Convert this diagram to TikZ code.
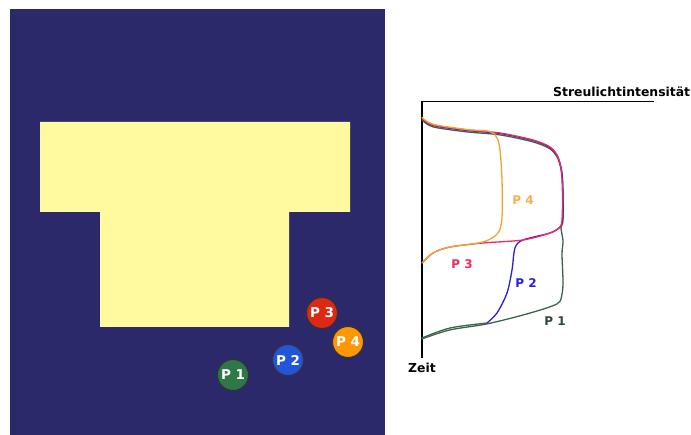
\documentclass[tikz,border=0pt]{standalone}
\usepackage{fontspec}
\setmainfont{DejaVu Sans}
\definecolor{navy}{RGB}{44,41,106}
\definecolor{tee}{RGB}{255,250,160}
\definecolor{cgreen}{RGB}{46,120,72}
\definecolor{cblue}{RGB}{34,85,215}
\definecolor{cred}{RGB}{222,40,20}
\definecolor{corange}{RGB}{255,152,0}
\definecolor{lgreen}{RGB}{60,100,75}
\definecolor{lblue}{RGB}{45,30,215}
\definecolor{lred}{RGB}{245,40,90}
\definecolor{lorange}{RGB}{245,160,50}
\definecolor{lgray}{RGB}{50,70,55}
\tikzset{
  ball/.style={circle, minimum size=31pt, inner sep=0pt, draw=black!80, line width=1pt,
    text=white, font=\fontsize{13.5}{13.5}\selectfont\bfseries},
  axis/.style={line width=1.6pt, black},
  curve/.style={line width=1.3pt, line join=round, line cap=round},
  clabel/.style={font=\fontsize{12}{12}\selectfont\bfseries, inner sep=0pt},
  axlabel/.style={font=\fontsize{12.4}{12.4}\selectfont\bfseries, inner sep=0pt}
}
\begin{document}
\begin{tikzpicture}[x=1pt,y=-1pt]
\useasboundingbox (0,0) rectangle (691,435);
\fill[white] (0,0) rectangle (691,435);
% left panel
\fill[navy] (10,9) rectangle (385,435);
\fill[tee] (40,122) -- (350,122) -- (350,212) -- (289,212) -- (289,327) -- (100,327) -- (100,212) -- (40,212) -- cycle;
\node[ball, fill=cgreen] (p1) at (233,375) {P 1};
\node[ball, fill=cblue] (p2) at (288,360) {P 2};
\node[ball, fill=cred] (p3) at (322,313) {P 3};
\node[ball, fill=corange] (p4) at (348,342) {P 4};
% chart axes
\coordinate (o) at (421.7,101.7);
\coordinate (xe) at (653,101.7);
\coordinate (ye) at (421.7,357);
\draw[axis, line cap=rect] (xe) -- (o) -- (ye);
\node[axlabel, anchor=base west] (xl) at (553,97) {Streulichtintensität};
\node[axlabel, anchor=base west] (yl) at (408,373) {Zeit};
% curves
\draw[curve, lgreen, yshift=-0.9pt] plot[smooth, tension=0.5] coordinates {(422,119) (433,126) (467,131) (500,134) (533,141) (550,148) (558,158) (562,174) (563,197) (563,220) (561,227) (563,240) (562,253) (563,280) (562,293) (557,303) (527,313) (487,323) (450,329) (422,338)};
\draw[curve, lblue] plot[smooth, tension=0.5] coordinates {(422,118.5) (433,125.5) (467,130.5) (500,133.5) (533,140.5) (550,147.5) (558,157.5) (562,173) (563,197) (562.5,220) (560,227) (550,233) (523,240) (515,248) (512,270) (507,293) (497,313) (487,323)};
\draw[curve, lred] plot[smooth, tension=0.5] coordinates {(422,118) (433,125) (467,130) (500,133) (533,140) (550,147) (558,157) (561.5,173) (562.5,197) (562,220) (560,227) (550,233) (523,240) (483,243) (450,247) (433,253) (422,263)};
\draw[curve, lorange] plot[smooth, tension=0.5] coordinates {(422,117.3) (433,124.3) (467,129.5) (490,131.5) (497,138) (500,150) (502,180) (502,217) (498,233) (483,242) (450,247) (433,253) (422,263)};
\draw[curve, lgreen] plot[smooth, tension=0.5] coordinates {(487,323) (450,328) (422,338)};
% chart labels
\node[clabel, text=lorange!85] (l4) at (523,200) {P 4};
\node[clabel, text=lred] (l3) at (462,264) {P 3};
\node[clabel, text=lblue] (l2) at (526,283) {P 2};
\node[clabel, text=lgray] (l1) at (555,321) {P 1};
\end{tikzpicture}
\end{document}
